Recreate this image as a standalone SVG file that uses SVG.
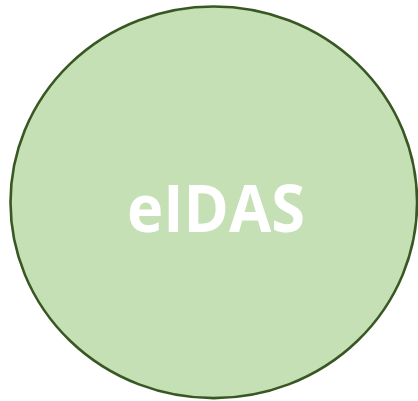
<svg xmlns="http://www.w3.org/2000/svg" width="418" height="401" viewBox="0 0 418 401">
<style>
.node{fill:#C5E0B4;stroke:#385723;stroke-width:2.6}
.lbl{font-family:"Open Sans","Liberation Sans",sans-serif;font-weight:bold;fill:#FFFFFF;font-size:67px}
</style>
<rect width="418" height="401" fill="#FFFFFF"/>
<g id="connectors"></g>
<g id="eidas">
<ellipse class="node" cx="213.8" cy="202.3" rx="203.3" ry="195.8"/>
<text class="lbl" x="216" y="232" text-anchor="middle" textLength="178" lengthAdjust="spacingAndGlyphs">eIDAS</text>
</g>
</svg>
